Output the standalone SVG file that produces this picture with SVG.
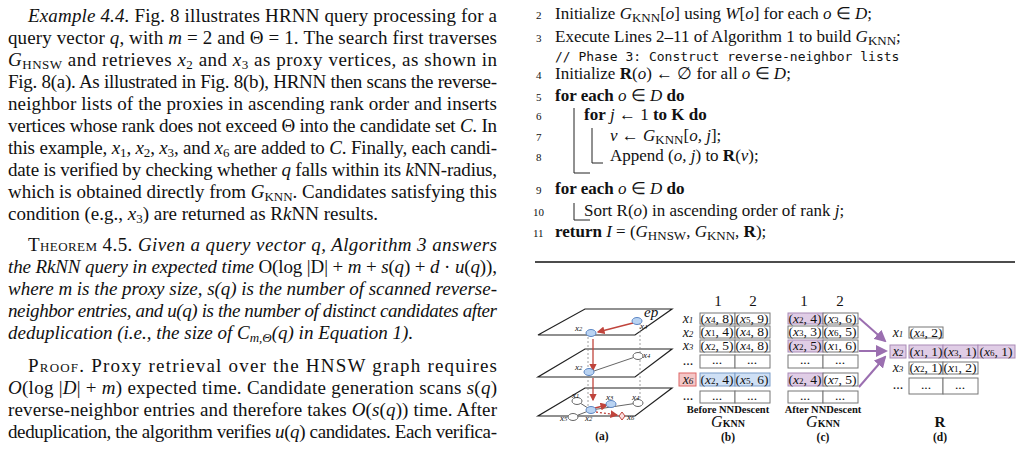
<svg xmlns="http://www.w3.org/2000/svg" width="1023" height="450" viewBox="0 0 1023 450">
<style>
text{font-family:"Liberation Serif",serif;fill:#111}
.t{font-size:19px}
.a{font-size:17px}
.i{font-style:italic}
.b{font-weight:bold}
.sc{font-variant:small-caps}
.s{font-size:13px;baseline-shift:-3px}
.m{font-family:"DejaVu Sans Mono",monospace;font-size:13px}
.cell{fill:#fff;stroke:#777;stroke-width:1}
.bl{fill:#cfe0f5;stroke:#7a9cc8}
.pu{fill:#e0cde6;stroke:#a98bb6}
.ct{font-size:13.5px;text-anchor:middle}
.hd{font-size:15px;text-anchor:middle}
.lb{font-size:14px;font-style:italic;text-anchor:middle}
.nb{fill:#b9d3f2;stroke:#5c86c4;stroke-width:1}
.ng{fill:#fff;stroke:#666;stroke-width:1}
.pl{fill:#fff;stroke:#222;stroke-width:1.2}
.ra{stroke:#c0443c;stroke-width:1.3;fill:none;marker-end:url(#rh)}
.dg{stroke:#888;stroke-width:0.8;stroke-dasharray:2,2}
.pa{stroke:#9b6fb0;stroke-width:2;fill:none;marker-end:url(#ph)}
.sm{font-size:9px;font-style:italic}
.sb{font-size:9px}
.ss{font-size:6.5px}
</style>
<defs>
<marker id="rh" markerWidth="6" markerHeight="6" refX="5" refY="3" orient="auto"><path d="M0,0L6,3L0,6z" fill="#c0443c"/></marker>
<marker id="ph" markerWidth="6" markerHeight="6" refX="5" refY="3" orient="auto"><path d="M0,0L6,3L0,6z" fill="#9b6fb0"/></marker>
</defs>
<rect width="1023" height="450" fill="#fff"/>
<g id="left-text" class="t">
<text x="28" y="22" textLength="469" lengthAdjust="spacing"><tspan class="i">Example 4.4.</tspan> Fig. 8 illustrates HRNN query processing for a</text>
<text x="8" y="44" textLength="489" lengthAdjust="spacing">query vector <tspan class="i">q</tspan>, with <tspan class="i">m</tspan> = 2 and Θ = 1. The search first traverses</text>
<text x="8" y="66" textLength="489" lengthAdjust="spacing"><tspan class="i">G</tspan><tspan class="s">HNSW</tspan><tspan> and retrieves </tspan><tspan class="i">x</tspan><tspan class="s">2</tspan><tspan> and </tspan><tspan class="i">x</tspan><tspan class="s">3</tspan><tspan> as proxy vertices, as shown in</tspan></text>
<text x="8" y="88" textLength="489" lengthAdjust="spacing">Fig. 8(a). As illustrated in Fig. 8(b), HRNN then scans the reverse-</text>
<text x="8" y="110" textLength="489" lengthAdjust="spacing">neighbor lists of the proxies in ascending rank order and inserts</text>
<text x="8" y="132" textLength="489" lengthAdjust="spacing">vertices whose rank does not exceed Θ into the candidate set <tspan class="i">C</tspan>. In</text>
<text x="8" y="154" textLength="489" lengthAdjust="spacing">this example, <tspan class="i">x</tspan><tspan class="s">1</tspan><tspan>, </tspan><tspan class="i">x</tspan><tspan class="s">2</tspan><tspan>, </tspan><tspan class="i">x</tspan><tspan class="s">3</tspan><tspan>, and </tspan><tspan class="i">x</tspan><tspan class="s">6</tspan><tspan> are added to </tspan><tspan class="i">C</tspan><tspan>. Finally, each candi-</tspan></text>
<text x="8" y="176" textLength="489" lengthAdjust="spacing">date is verified by checking whether <tspan class="i">q</tspan> falls within its <tspan class="i">k</tspan>NN-radius,</text>
<text x="8" y="198" textLength="489" lengthAdjust="spacing">which is obtained directly from <tspan class="i">G</tspan><tspan class="s">KNN</tspan><tspan>. Candidates satisfying this</tspan></text>
<text x="8" y="220">condition (e.g., <tspan class="i">x</tspan><tspan class="s">3</tspan><tspan>) are returned as R</tspan><tspan class="i">k</tspan><tspan>NN results.</tspan></text>
<text x="28" y="251" textLength="469" lengthAdjust="spacing"><tspan class="sc">Theorem</tspan> 4.5. <tspan class="i">Given a query vector q, Algorithm 3 answers</tspan></text>
<text x="8" y="273" textLength="489" lengthAdjust="spacing" class="i">the RkNN query in expected time <tspan font-style="normal">O(log |D| + </tspan>m<tspan font-style="normal"> + </tspan>s<tspan font-style="normal">(</tspan>q<tspan font-style="normal">) + </tspan>d<tspan font-style="normal"> · </tspan>u<tspan font-style="normal">(</tspan>q<tspan font-style="normal">)),</tspan></text>
<text x="8" y="295" textLength="489" lengthAdjust="spacing" class="i">where m is the proxy size, s(q) is the number of scanned reverse-</text>
<text x="8" y="317" textLength="489" lengthAdjust="spacing" class="i">neighbor entries, and u(q) is the number of distinct candidates after</text>
<text x="8" y="339" class="i">deduplication (i.e., the size of C<tspan class="s">m,Θ</tspan><tspan>(q) in Equation 1).</tspan></text>
<text x="28" y="372" textLength="469" lengthAdjust="spacing"><tspan class="sc">Proof</tspan>. Proxy retrieval over the HNSW graph requires</text>
<text x="8" y="394" textLength="489" lengthAdjust="spacing"><tspan class="i">O</tspan>(log |<tspan class="i">D</tspan>| + <tspan class="i">m</tspan>) expected time. Candidate generation scans <tspan class="i">s</tspan>(<tspan class="i">q</tspan>)</text>
<text x="8" y="416" textLength="489" lengthAdjust="spacing">reverse-neighbor entries and therefore takes <tspan class="i">O</tspan>(<tspan class="i">s</tspan>(<tspan class="i">q</tspan>)) time. After</text>
<text x="8" y="438" textLength="489" lengthAdjust="spacing">deduplication, the algorithm verifies <tspan class="i">u</tspan>(<tspan class="i">q</tspan>) candidates. Each verifica-</text>
</g>
<g id="algorithm" class="a">
<g font-size="11px"><text x="536" y="19">2</text><text x="536" y="42">3</text><text x="536" y="79">4</text><text x="536" y="101">5</text><text x="536" y="120">6</text><text x="536" y="141">7</text><text x="536" y="161">8</text><text x="536" y="194">9</text><text x="533" y="216">10</text><text x="533" y="237">11</text></g>
<text x="555" y="19">Initialize <tspan class="i">G</tspan><tspan class="s">KNN</tspan><tspan>[</tspan><tspan class="i">o</tspan><tspan>] using </tspan><tspan class="i">W</tspan><tspan>[</tspan><tspan class="i">o</tspan><tspan>] for each </tspan><tspan class="i">o</tspan><tspan> ∈ </tspan><tspan class="i">D</tspan><tspan>;</tspan></text>
<text x="555" y="42">Execute Lines 2–11 of Algorithm 1 to build <tspan class="i">G</tspan><tspan class="s">KNN</tspan><tspan>;</tspan></text>
<text x="555" y="61" class="m">// Phase 3: Construct reverse-neighbor lists</text>
<text x="555" y="79">Initialize <tspan class="b">R</tspan>(<tspan class="i">o</tspan>) ← ∅ for all <tspan class="i">o</tspan> ∈ <tspan class="i">D</tspan>;</text>
<text x="555" y="101"><tspan class="b">for each</tspan> <tspan class="i">o</tspan> ∈ <tspan class="i">D</tspan> <tspan class="b">do</tspan></text>
<text x="584" y="120"><tspan class="b">for</tspan> <tspan class="i">j</tspan> ← 1 <tspan class="b">to K do</tspan></text>
<text x="610" y="141"><tspan class="i">v</tspan> ← <tspan class="i">G</tspan><tspan class="s">KNN</tspan><tspan>[</tspan><tspan class="i">o, j</tspan><tspan>];</tspan></text>
<text x="610" y="161">Append (<tspan class="i">o, j</tspan>) to <tspan class="b">R</tspan>(<tspan class="i">v</tspan>);</text>
<text x="555" y="194"><tspan class="b">for each</tspan> <tspan class="i">o</tspan> ∈ <tspan class="i">D</tspan> <tspan class="b">do</tspan></text>
<text x="584" y="216">Sort <tspan>R</tspan>(<tspan class="i">o</tspan>) in ascending order of rank <tspan class="i">j</tspan>;</text>
<text x="555" y="237"><tspan class="b">return</tspan> <tspan class="i">I</tspan> = (<tspan class="i">G</tspan><tspan class="s">HNSW</tspan><tspan>, </tspan><tspan class="i">G</tspan><tspan class="s">KNN</tspan><tspan>, </tspan><tspan class="b">R</tspan><tspan>);</tspan></text>
<path d="M574,108V173H590M592,128V163H603M574,203V220H590" stroke="#222" stroke-width="1" fill="none"/>
<line x1="535" y1="262" x2="1015" y2="262" stroke="#111" stroke-width="1.5"/>
</g>
<g id="fig-a">
<polygon class="pl" points="585,309 672,309 635,335 538,335"/>
<polygon class="pl" points="585,349 672,349 635,377 538,377"/>
<polygon class="pl" points="585,388 672,388 635,416 538,416"/>
<line class="dg" x1="640" y1="323" x2="640" y2="353"/><line class="dg" x1="640" y1="360" x2="640" y2="400"/>
<line class="dg" x1="588" y1="337" x2="588" y2="369"/><line class="dg" x1="588" y1="376" x2="588" y2="407"/>
<line x1="591" y1="372" x2="638" y2="356" stroke="#666"/>
<path d="M577,401L591,410L573,417M591,410L638,403" stroke="#666" fill="none"/>
<path class="ra" d="M633,323L598,332"/><path class="ra" d="M593,339V370"/><path class="ra" d="M593,378V400"/>
<path class="ra" d="M595,408L607,405"/><path class="ra" d="M596,412L617,415" stroke-dasharray="2,2"/>
<ellipse class="nb" cx="637" cy="321" rx="5" ry="3.5"/><ellipse class="nb" cx="591" cy="333" rx="5" ry="3.5"/>
<ellipse class="nb" cx="589" cy="372" rx="5" ry="3.5"/><ellipse class="ng" cx="638" cy="356" rx="5" ry="3.5"/>
<ellipse class="ng" cx="577" cy="401" rx="5" ry="3.5"/><ellipse class="nb" cx="611" cy="404" rx="5" ry="3.5"/>
<ellipse class="ng" cx="573" cy="417" rx="5" ry="3.5"/><ellipse class="ng" cx="638" cy="403" rx="5" ry="3.5"/>
<ellipse class="nb" cx="591" cy="410" rx="5" ry="3.5"/>
<polygon points="622,412 625,416 622,420 619,416" fill="#fbe0e0" stroke="#c0443c"/>
<text x="644" y="317" font-size="15px" class="i">ep</text>
<text class="sm" x="575" y="331">x<tspan class="ss">2</tspan></text><text class="sm" x="640" y="329">x<tspan class="ss">4</tspan></text>
<text class="sm" x="575" y="370">x<tspan class="ss">2</tspan></text><text class="sm" x="643" y="358">x<tspan class="ss">4</tspan></text>
<text class="sm" x="572" y="398">x<tspan class="ss">1</tspan></text><text class="sm" x="606" y="400">x<tspan class="ss">3</tspan></text>
<text class="sm" x="632" y="400">x<tspan class="ss">4</tspan></text><text class="sm" x="585" y="421">x<tspan class="ss">2</tspan></text>
<text class="sm" x="560" y="421">x<tspan class="ss">5</tspan></text><text class="sm" x="627" y="420">x<tspan class="ss">6</tspan></text>
<text x="602" y="440" font-size="11.5px" class="b" text-anchor="middle">(a)</text>
</g>
<g id="fig-b">
<text x="718" y="306" class="hd">1</text><text x="753" y="306" class="hd">2</text>
<rect x="679" y="373" width="17" height="13" fill="#f4c7c7" stroke="#d66"/>
<g class="lb"><text x="688" y="323">x<tspan class="sb">1</tspan></text><text x="688" y="337">x<tspan class="sb">2</tspan></text><text x="688" y="350">x<tspan class="sb">3</tspan></text><text x="688" y="365" font-style="normal">...</text><text x="688" y="384">x<tspan class="sb">6</tspan></text><text x="688" y="400" font-style="normal">...</text></g>
<rect class="cell" x="700" y="313" width="35" height="11"/><rect class="cell" x="735" y="313" width="35" height="11"/>
<rect class="cell" x="700" y="326" width="35" height="12"/><rect class="cell" x="735" y="326" width="35" height="12"/>
<rect class="cell" x="700" y="340" width="35" height="12"/><rect class="cell" x="735" y="340" width="35" height="12"/>
<rect class="cell" x="700" y="355" width="35" height="13"/><rect class="cell" x="735" y="355" width="35" height="13"/>
<rect class="cell bl" x="700" y="373" width="35" height="13"/><rect class="cell bl" x="735" y="373" width="35" height="13"/>
<rect class="cell" x="700" y="391" width="35" height="12"/><rect class="cell" x="735" y="391" width="35" height="12"/>
<g class="ct"><text x="717" y="323">(<tspan class="i">x</tspan><tspan class="sb">4</tspan>, 8)</text><text x="752" y="323">(<tspan class="i">x</tspan><tspan class="sb">5</tspan>, 9)</text>
<text x="717" y="336">(<tspan class="i">x</tspan><tspan class="sb">1</tspan>, 4)</text><text x="752" y="336">(<tspan class="i">x</tspan><tspan class="sb">4</tspan>, 8)</text>
<text x="717" y="350">(<tspan class="i">x</tspan><tspan class="sb">2</tspan>, 5)</text><text x="752" y="350">(<tspan class="i">x</tspan><tspan class="sb">4</tspan>, 8)</text>
<text x="717" y="364">...</text><text x="752" y="364">...</text>
<text x="717" y="384">(<tspan class="i">x</tspan><tspan class="sb">2</tspan>, 4)</text><text x="752" y="384">(<tspan class="i">x</tspan><tspan class="sb">5</tspan>, 6)</text>
<text x="717" y="400">...</text><text x="752" y="400">...</text></g>
<text x="728" y="413" font-size="10.5px" class="b" text-anchor="middle">Before NNDescent</text>
<text x="728" y="427" font-size="16px" text-anchor="middle"><tspan class="i">G</tspan><tspan font-size="10px" class="b">KNN</tspan></text>
<text x="728" y="441" font-size="11.5px" class="b" text-anchor="middle">(b)</text>
</g>
<g id="fig-c">
<text x="804" y="306" class="hd">1</text><text x="840" y="306" class="hd">2</text>
<rect class="cell pu" x="788" y="313" width="35" height="11"/><rect class="cell" x="823" y="313" width="35" height="11"/>
<rect class="cell" x="788" y="326" width="35" height="12"/><rect class="cell" x="823" y="326" width="35" height="12"/>
<rect class="cell pu" x="788" y="340" width="35" height="12"/><rect class="cell" x="823" y="340" width="35" height="12"/>
<rect class="cell" x="788" y="355" width="35" height="13"/><rect class="cell" x="823" y="355" width="35" height="13"/>
<rect class="cell pu" x="788" y="373" width="35" height="13"/><rect class="cell" x="823" y="373" width="35" height="13"/>
<rect class="cell" x="788" y="391" width="35" height="12"/><rect class="cell" x="823" y="391" width="35" height="12"/>
<g class="ct"><text x="805" y="323">(<tspan class="i">x</tspan><tspan class="sb">2</tspan>, 4)</text><text x="840" y="323">(<tspan class="i">x</tspan><tspan class="sb">3</tspan>, 6)</text>
<text x="805" y="336">(<tspan class="i">x</tspan><tspan class="sb">3</tspan>, 3)</text><text x="840" y="336">(<tspan class="i">x</tspan><tspan class="sb">6</tspan>, 5)</text>
<text x="805" y="350">(<tspan class="i">x</tspan><tspan class="sb">2</tspan>, 5)</text><text x="840" y="350">(<tspan class="i">x</tspan><tspan class="sb">1</tspan>, 6)</text>
<text x="805" y="364">...</text><text x="840" y="364">...</text>
<text x="805" y="384">(<tspan class="i">x</tspan><tspan class="sb">2</tspan>, 4)</text><text x="840" y="384">(<tspan class="i">x</tspan><tspan class="sb">7</tspan>, 5)</text>
<text x="805" y="400">...</text><text x="840" y="400">...</text></g>
<text x="823" y="413" font-size="10.5px" class="b" text-anchor="middle">After NNDescent</text>
<text x="823" y="427" font-size="16px" text-anchor="middle"><tspan class="i">G</tspan><tspan font-size="10px" class="b">KNN</tspan></text>
<text x="823" y="441" font-size="11.5px" class="b" text-anchor="middle">(c)</text>
</g>
<g id="connectors">
<path class="pa" d="M859,318L885,341"/><path class="pa" d="M859,351L886,351"/><path class="pa" d="M859,387L885,357"/>
</g>
<g id="fig-d">
<rect x="890" y="345" width="16" height="13" class="pu"/>
<g class="lb"><text x="898" y="337">x<tspan class="sb">1</tspan></text><text x="898" y="356">x<tspan class="sb">2</tspan></text><text x="898" y="372">x<tspan class="sb">3</tspan></text><text x="898" y="389" font-style="normal">...</text></g>
<rect class="cell" x="909" y="327" width="34" height="11"/>
<rect class="cell pu" x="909" y="345" width="34" height="13"/><rect class="cell pu" x="943" y="345" width="35" height="13"/><rect class="cell pu" x="978" y="345" width="37" height="13"/>
<rect class="cell" x="909" y="362" width="34" height="12"/><rect class="cell" x="943" y="362" width="35" height="12"/>
<rect class="cell" x="909" y="378" width="34" height="16"/><rect class="cell" x="943" y="378" width="35" height="16"/>
<g class="ct"><text x="926" y="337">(<tspan class="i">x</tspan><tspan class="sb">4</tspan>, 2)</text>
<text x="926" y="356">(<tspan class="i">x</tspan><tspan class="sb">1</tspan>, 1)</text><text x="960" y="356">(<tspan class="i">x</tspan><tspan class="sb">3</tspan>, 1)</text><text x="996" y="356">(<tspan class="i">x</tspan><tspan class="sb">6</tspan>, 1)</text>
<text x="926" y="372">(<tspan class="i">x</tspan><tspan class="sb">2</tspan>, 1)</text><text x="960" y="372">(<tspan class="i">x</tspan><tspan class="sb">1</tspan>, 2)</text>
<text x="926" y="389">...</text><text x="960" y="389">...</text></g>
<text x="940" y="427" font-size="15px" class="b" text-anchor="middle">R</text>
<text x="940" y="441" font-size="11.5px" class="b" text-anchor="middle">(d)</text>
</g>
</svg>
